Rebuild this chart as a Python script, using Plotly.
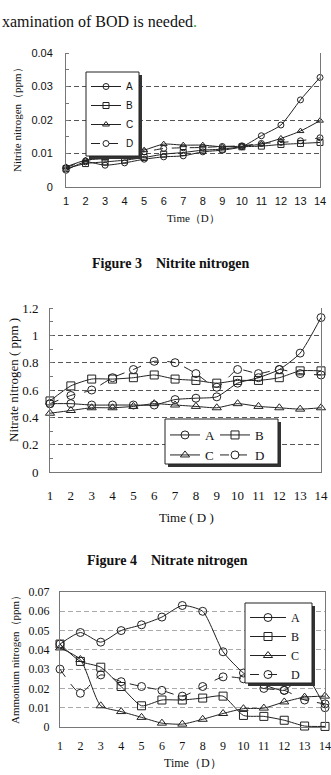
import plotly.graph_objects as go

days = list(range(1, 15))
series_names = ["A", "B", "C", "D"]

# Figure 3: Nitrite nitrogen (ppm)
nitrite_A = [0.0050, 0.0075, 0.0065, 0.0072, 0.0083, 0.0090, 0.0093, 0.0105, 0.0110, 0.0120, 0.0153, 0.0185, 0.0260, 0.0327]
nitrite_B = [0.0055, 0.0070, 0.0075, 0.0080, 0.0088, 0.0098, 0.0103, 0.0110, 0.0113, 0.0120, 0.0122, 0.0127, 0.0130, 0.0133]
nitrite_C = [0.0060, 0.0080, 0.0085, 0.0095, 0.0110, 0.0128, 0.0125, 0.0125, 0.0120, 0.0122, 0.0128, 0.0145, 0.0167, 0.0198]
nitrite_D = [0.0058, 0.0078, 0.0090, 0.0100, 0.0105, 0.0115, 0.0117, 0.0118, 0.0121, 0.0123, 0.0130, 0.0133, 0.0138, 0.0147]

# Figure 4: Nitrate nitrogen (ppm)
nitrate_A = [0.50, 0.50, 0.49, 0.49, 0.49, 0.49, 0.53, 0.54, 0.55, 0.65, 0.69, 0.75, 0.87, 1.13]
nitrate_B = [0.52, 0.63, 0.68, 0.68, 0.69, 0.71, 0.68, 0.67, 0.65, 0.67, 0.67, 0.69, 0.74, 0.74]
nitrate_C = [0.43, 0.45, 0.47, 0.47, 0.48, 0.50, 0.49, 0.48, 0.47, 0.50, 0.48, 0.47, 0.46, 0.47]
nitrate_D = [0.50, 0.56, 0.60, 0.69, 0.75, 0.81, 0.80, 0.72, 0.62, 0.75, 0.72, 0.75, 0.72, 0.71]

# Ammonium nitrogen (ppm)
ammonium_A = [0.043, 0.049, 0.044, 0.050, 0.053, 0.057, 0.063, 0.060, 0.039, 0.028, 0.022, 0.019, 0.027, 0.010]
ammonium_B = [0.043, 0.034, 0.031, 0.021, 0.011, 0.014, 0.014, 0.015, 0.016, 0.006, 0.0055, 0.0035, 0.0005, 0.0003]
ammonium_C = [0.041, 0.035, 0.011, 0.008, 0.005, 0.002, 0.0015, 0.004, 0.007, 0.0095, 0.0098, 0.013, 0.0155, 0.016]
ammonium_D = [0.030, 0.0175, 0.027, 0.0235, 0.021, 0.019, 0.016, 0.021, 0.026, 0.025, 0.020, 0.019, 0.014, 0.012]

W, H = 331, 775
def px(x): return x / W
def py(y): return 1 - y / H

symbols = {"A": "circle-open", "B": "square-open", "C": "triangle-up-open", "D": "circle-open"}
dashes = {"A": "solid", "B": "solid", "C": "solid", "D": "dash"}

fig = go.Figure()

panels = [
    (dict(A=nitrite_A, B=nitrite_B, C=nitrite_C, D=nitrite_D), "x", "y",
     dict(A="legend", B="legend", C="legend", D="legend"), 6),
    (dict(A=nitrate_A, B=nitrate_B, C=nitrate_C, D=nitrate_D), "x2", "y2",
     dict(A="legend2", B="legend2", C="legend4", D="legend4"), 8),
    (dict(A=ammonium_A, B=ammonium_B, C=ammonium_C, D=ammonium_D), "x3", "y3",
     dict(A="legend3", B="legend3", C="legend3", D="legend3"), 8),
]
for data, xa, ya, lgs, msize in panels:
    for name in series_names:
        fig.add_trace(go.Scatter(
            x=days, y=data[name], name=name, xaxis=xa, yaxis=ya, legend=lgs[name],
            mode="lines+markers", line=dict(color="#222", width=1, dash=dashes[name], shape="spline", smoothing=0.6),
            marker=dict(symbol=symbols[name], size=msize, color="#222", line=dict(width=1, color="#222")),
            cliponaxis=False,
        ))

sans = "Liberation Sans, Arial, sans-serif"
serif = "Liberation Serif, Times New Roman, serif"

common_x = dict(range=[1, 14], tickmode="array", tickvals=days, ticktext=[str(d) for d in days],
                showgrid=False, zeroline=False, showline=True, linecolor="#777", linewidth=1, ticks="",
                ticklabeloverflow="allow")
common_y = dict(zeroline=False, showline=True, linecolor="#777", linewidth=1, mirror=True, ticks="",
                showgrid=True, griddash="5px,3px")
clear = "rgba(0,0,0,0)"
lg_common = dict(xref="container", yref="container", xanchor="left", yanchor="top",
                 bgcolor=clear, borderwidth=0)

amm_ticks = [0, 0.01, 0.02, 0.03, 0.04, 0.05, 0.06, 0.07]
amm_dark_grid = [0.04, 0.05, 0.06]

fig.update_layout(
    width=W, height=H, margin=dict(l=0, r=0, t=0, b=0, autoexpand=False),
    paper_bgcolor="white", plot_bgcolor="white", showlegend=True,
    xaxis=dict(common_x, domain=[px(66), px(320)], anchor="y", mirror=False,
               tickfont=dict(family=sans, size=11, color="#111"), ticklabelstandoff=4),
    yaxis=dict(common_y, domain=[py(187), py(53)], anchor="x", range=[0, 0.04],
               tickvals=[0, 0.01, 0.02, 0.03, 0.04], ticktext=["0", "0.01", "0.02", "0.03", "0.04"],
               gridcolor="#555", tickfont=dict(family=sans, size=11, color="#111"), ticklabelstandoff=10,
               minor=dict(ticks="inside", dtick=0.005, ticklen=3, tickcolor="#777", showgrid=False)),
    xaxis2=dict(common_x, domain=[px(50), px(321)], anchor="y2", mirror=False,
                tickfont=dict(family=serif, size=13, color="#111"), ticklabelstandoff=11),
    yaxis2=dict(common_y, domain=[py(472), py(308)], anchor="x2", range=[0, 1.2],
                tickvals=[0, 0.2, 0.4, 0.6, 0.8, 1.0, 1.2], ticktext=["0", "0.2", "0.4", "0.6", "0.8", "1", "1.2"],
                gridcolor="#555", tickfont=dict(family=serif, size=13, color="#111"), ticklabelstandoff=8,
                minor=dict(ticks="inside", dtick=0.1, ticklen=3, tickcolor="#777", showgrid=False)),
    xaxis3=dict(common_x, domain=[px(60), px(325)], anchor="y3", mirror=True,
                tickfont=dict(family=serif, size=12, color="#111"), ticklabelstandoff=8),
    yaxis3=dict(common_y, domain=[py(727), py(592)], anchor="x3", range=[0, 0.07],
                tickvals=amm_ticks, ticktext=[("0" if v == 0 else f"{v:.2f}") for v in amm_ticks],
                gridcolor="#aaa", tickfont=dict(family=serif, size=12, color="#111"), ticklabelstandoff=7),
    yaxis4=dict(overlaying="y3", anchor="x3", range=[0, 0.07], tickvals=amm_dark_grid, showticklabels=False,
                showgrid=True, gridcolor="#555", griddash="5px,3px", zeroline=False, showline=False, ticks=""),
    legend=dict(lg_common, x=px(86), y=py(72), font=dict(family=sans, size=10, color="#111"), itemwidth=30),
    legend2=dict(lg_common, x=px(165), y=py(420), orientation="h", entrywidth=5, entrywidthmode="pixels",
                 font=dict(family=serif, size=13, color="#111"), itemwidth=30),
    legend4=dict(lg_common, x=px(165), y=py(440), orientation="h", entrywidth=5, entrywidthmode="pixels",
                 font=dict(family=serif, size=13, color="#111"), itemwidth=30),
    legend3=dict(lg_common, x=px(245), y=py(603), font=dict(family=serif, size=12, color="#111"), itemwidth=36),
)

ann = []
ann.append(dict(text="xamination of BOD is needed<span style='color:#3a3'>.</span>", x=0, y=py(21),
                xanchor="left", yanchor="middle", font=dict(family=serif, size=16, color="#111")))
ann.append(dict(text="Nitrite nitrogen（ppm）", x=px(17), y=py(117), textangle=-90,
                xanchor="center", yanchor="middle", font=dict(family=serif, size=11, color="#111")))
ann.append(dict(text="Time（D）", x=px(193), y=py(218), xanchor="center", yanchor="middle",
                font=dict(family=serif, size=11, color="#111")))
ann.append(dict(text="<b>Figure 3\u00a0\u00a0\u00a0\u00a0Nitrite nitrogen</b>", x=px(171), y=py(263), xanchor="center",
                yanchor="middle", font=dict(family=serif, size=14, color="#111")))
ann.append(dict(text="Nitrate nitrogen ( ppm )", x=px(14), y=py(380), textangle=-90,
                xanchor="center", yanchor="middle", font=dict(family=serif, size=13, color="#111")))
ann.append(dict(text="Time ( D )", x=px(186), y=py(517), xanchor="center", yanchor="middle",
                font=dict(family=serif, size=13, color="#111")))
ann.append(dict(text="<b>Figure 4\u00a0\u00a0\u00a0\u00a0Nitrate nitrogen</b>", x=px(167), y=py(560), xanchor="center",
                yanchor="middle", font=dict(family=serif, size=14, color="#111")))
ann.append(dict(text="Ammonium nitrogen（ppm）", x=px(15), y=py(657), textangle=-90,
                xanchor="center", yanchor="middle", font=dict(family=serif, size=11, color="#111")))
ann.append(dict(text="Time（D）", x=px(193), y=py(763), xanchor="center", yanchor="middle",
                font=dict(family=serif, size=12, color="#111")))
for a in ann:
    a.update(xref="paper", yref="paper", showarrow=False)
fig.update_layout(annotations=ann)

# legend frames: drop shadow + white box with dark border (legend text/symbols draw on top)
shadow = dict(type="rect", xref="paper", yref="paper", line=dict(width=0), fillcolor="#333", layer="above")
frame = dict(type="rect", xref="paper", yref="paper", line=dict(width=1, color="#222"), fillcolor="white",
             layer="above")
boxes = [(86, 72, 139, 156), (165, 419, 278, 464), (245, 603, 312, 683)]
shapes = []
for x0, y0, x1, y1 in boxes:
    shapes.append(dict(shadow, x0=px(x0 + 3), x1=px(x1 + 3), y0=py(y1 + 3), y1=py(y0 + 3)))
    shapes.append(dict(frame, x0=px(x0), x1=px(x1), y0=py(y1), y1=py(y0)))
fig.update_layout(shapes=shapes)

fig.write_html("out.html")
